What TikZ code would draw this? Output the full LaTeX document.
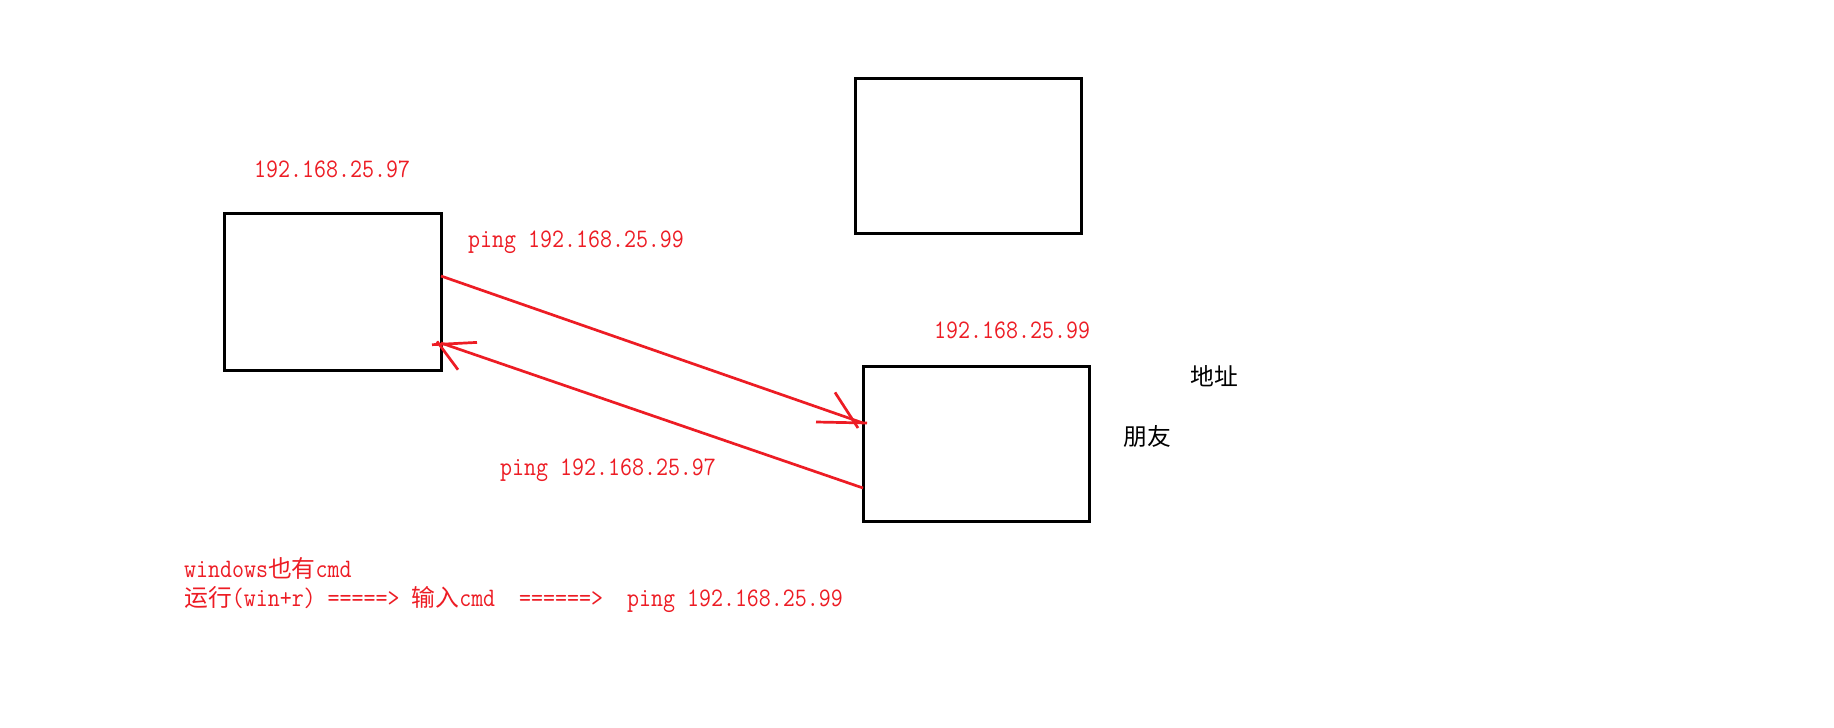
\documentclass[tikz,border=0pt]{standalone}
\usepackage{fontspec}
\newfontfamily\lat[FakeStretch=0.873]{Latin Modern Mono}
\newfontfamily\cjk{Noto Sans CJK SC}
\definecolor{pred}{RGB}{237,28,36}
\begin{document}
\begin{tikzpicture}[x=1pt,y=-1pt,
  box/.style={draw=black,line width=3pt,inner sep=0pt,outer sep=0pt},
  lbl/.style={text=pred,inner sep=0pt,anchor=base west,font=\fontsize{26.67}{29}\selectfont\lat},
  blk/.style={text=black,inner sep=0pt,anchor=base west,font=\fontsize{23.8}{29}\selectfont\cjk},
  conn/.style={draw=pred,line width=2.7pt}]
\fill[white] (0,0) rectangle (1834,728);
\useasboundingbox (0,0) rectangle (1834,728);
% boxes
\node[box,minimum width=217pt,minimum height=157pt] (A) at (332.5,291.5) {};
\node[box,minimum width=226pt,minimum height=155pt] (B) at (968,155.5) {};
\node[box,minimum width=226pt,minimum height=155pt] (C) at (976,443.5) {};
% connector endpoints on the boxes
\coordinate (t1) at ([yshift=-63pt]A.north east);
\coordinate (h1) at ([yshift=-57pt]C.north west);
\coordinate (t2) at ([yshift=-122pt]C.north west);
\coordinate (h2) at ([yshift=-130pt]A.north east);
% connectors
\draw[conn] (t1) -- (h1);
\draw[conn] (h1) ++(-28,-30.6) -- ++(23,35.6);
\draw[conn] (h1) ++(-47,-1) -- ++(51,1);
\draw[conn] (t2) -- (h2);
\draw[conn] (h2) ++(-9,1.7) -- ++(45,-2.3);
\draw[conn] (h2) ++(-4,-1.6) -- ++(21,28.3);
% labels
\node[lbl] (ipA) at (254,177) {192.168.25.97};
\node[lbl] (p99) at (468,247) {ping 192.168.25.99};
\node[lbl] (ipC) at (934,338) {192.168.25.99};
\node[blk] (dz) at (1190,385) {地址};
\node[blk] (py) at (1123,445) {朋友};
\node[lbl] (p97) at (500,475) {ping 192.168.25.97};
\node[lbl] (l1) at (184,577) {windows{\fontsize{23.8}{29}\selectfont\cjk 也有}cmd};
\node[lbl] (l2) at (184,606) {{\fontsize{23.8}{29}\selectfont\cjk 运行}(win+r)~=====>~{\fontsize{23.8}{29}\selectfont\cjk 输入}cmd~~======>~~ping 192.168.25.99};
\end{tikzpicture}
\end{document}
